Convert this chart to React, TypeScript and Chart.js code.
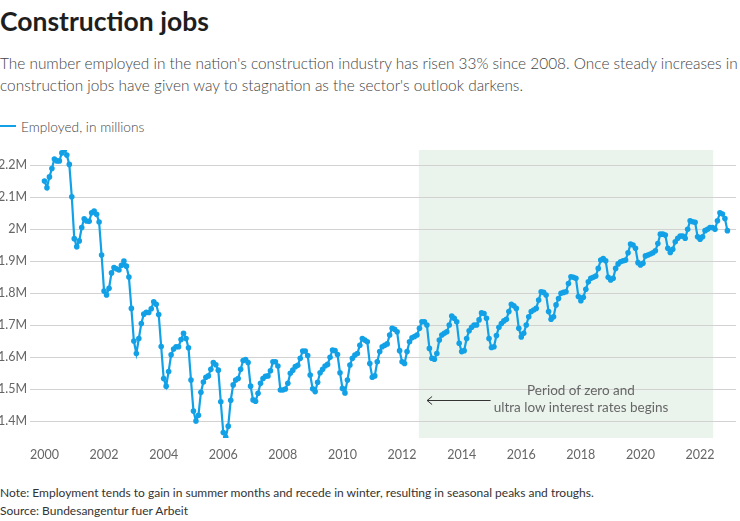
import React, { useEffect, useRef } from "react";
import { Chart, registerables } from "chart.js";

Chart.register(...registerables);

// Monthly employment in construction (millions), Jan..Dec
const y2000 = [2.150, 2.129, 2.163, 2.189, 2.219, 2.213, 2.213, 2.238, 2.247, 2.231, 2.202, 2.101];
const y2001 = [1.970, 1.945, 1.963, 2.005, 2.032, 2.025, 2.024, 2.051, 2.056, 2.046, 2.022, 1.919];
const y2002 = [1.806, 1.794, 1.815, 1.863, 1.880, 1.876, 1.872, 1.887, 1.900, 1.884, 1.850, 1.752];
const y2003 = [1.650, 1.611, 1.658, 1.705, 1.734, 1.740, 1.739, 1.751, 1.773, 1.765, 1.733, 1.633];
const y2004 = [1.533, 1.509, 1.555, 1.607, 1.625, 1.632, 1.632, 1.655, 1.674, 1.658, 1.629, 1.528];
const y2005 = [1.431, 1.400, 1.418, 1.490, 1.522, 1.537, 1.541, 1.562, 1.583, 1.576, 1.559, 1.460];
const y2006 = [1.364, 1.349, 1.384, 1.465, 1.513, 1.528, 1.533, 1.562, 1.589, 1.592, 1.583, 1.509];
const y2007 = [1.466, 1.462, 1.487, 1.518, 1.533, 1.540, 1.541, 1.557, 1.585, 1.585, 1.572, 1.497];
const y2008 = [1.497, 1.500, 1.518, 1.549, 1.559, 1.570, 1.574, 1.596, 1.619, 1.619, 1.605, 1.544];
const y2009 = [1.501, 1.492, 1.521, 1.551, 1.562, 1.572, 1.577, 1.599, 1.622, 1.620, 1.608, 1.551];
const y2010 = [1.502, 1.488, 1.528, 1.575, 1.596, 1.606, 1.611, 1.637, 1.658, 1.653, 1.648, 1.580];
const y2011 = [1.537, 1.541, 1.585, 1.617, 1.632, 1.637, 1.641, 1.669, 1.690, 1.687, 1.679, 1.620];
const y2012 = [1.585, 1.580, 1.617, 1.648, 1.660, 1.664, 1.669, 1.690, 1.710, 1.710, 1.700, 1.627];
const y2013 = [1.596, 1.593, 1.611, 1.653, 1.669, 1.674, 1.679, 1.700, 1.728, 1.721, 1.710, 1.643];
const y2014 = [1.617, 1.620, 1.658, 1.682, 1.693, 1.700, 1.700, 1.716, 1.738, 1.736, 1.721, 1.658];
const y2015 = [1.630, 1.632, 1.667, 1.693, 1.705, 1.713, 1.718, 1.742, 1.765, 1.760, 1.752, 1.690];
const y2016 = [1.663, 1.674, 1.700, 1.726, 1.742, 1.747, 1.752, 1.778, 1.804, 1.802, 1.794, 1.742];
const y2017 = [1.718, 1.726, 1.763, 1.783, 1.799, 1.802, 1.804, 1.830, 1.851, 1.849, 1.846, 1.789];
const y2018 = [1.776, 1.787, 1.812, 1.835, 1.846, 1.849, 1.853, 1.877, 1.903, 1.908, 1.901, 1.849];
const y2019 = [1.841, 1.846, 1.877, 1.891, 1.898, 1.901, 1.903, 1.926, 1.953, 1.950, 1.940, 1.895];
const y2020 = [1.888, 1.893, 1.916, 1.919, 1.922, 1.926, 1.932, 1.955, 1.984, 1.984, 1.981, 1.940];
const y2021 = [1.927, 1.937, 1.960, 1.971, 1.978, 1.978, 1.971, 1.999, 2.026, 2.023, 2.021, 1.976];
const y2022 = [1.968, 1.976, 1.995, 1.999, 2.005, 2.005, 1.999, 2.026, 2.051, 2.047, 2.033, 1.995];

const firstYear = 2000;
const yearSeries = [
  y2000, y2001, y2002, y2003, y2004, y2005, y2006, y2007, y2008, y2009, y2010, y2011,
  y2012, y2013, y2014, y2015, y2016, y2017, y2018, y2019, y2020, y2021, y2022,
];

const xTickValues = [2000, 2002, 2004, 2006, 2008, 2010, 2012, 2014, 2016, 2018, 2020, 2022];
const yTickValues = [1.4, 1.5, 1.6, 1.7, 1.8, 1.9, 2.0, 2.1, 2.2];

// low-rate period (decimal years)
const periodStart = 2012.56;
const periodEnd = 2022.44;

const LINE_COLOR = "#12a1e6";
const FONT = "Lato, 'Open Sans', sans-serif";

export default function App() {
  const canvasRef = useRef<HTMLCanvasElement | null>(null);

  useEffect(() => {
    document.body.style.margin = "0";
    const points: { x: number; y: number }[] = [];
    yearSeries.forEach((arr, yi) => {
      arr.forEach((v, mi) => points.push({ x: firstYear + yi + mi / 12, y: v }));
    });

    const shadePlugin = {
      id: "shade",
      beforeDraw(chart: any) {
        const { ctx, chartArea, scales } = chart;
        const x0 = scales.x.getPixelForValue(periodStart);
        const x1 = scales.x.getPixelForValue(periodEnd);
        ctx.save();
        ctx.fillStyle = "#eaf4ed";
        ctx.fillRect(x0, chartArea.top, x1 - x0, chartArea.bottom - chartArea.top);
        ctx.restore();
      },
    };

    const arrowPlugin = {
      id: "arrow",
      afterDatasetsDraw(chart: any) {
        const { ctx, scales } = chart;
        const xa = scales.x.getPixelForValue(2014.97);
        const xb = scales.x.getPixelForValue(2012.84);
        const y = Math.round(scales.y.getPixelForValue(1.466)) + 0.5;
        ctx.save();
        ctx.strokeStyle = "#333";
        ctx.lineWidth = 1;
        ctx.beginPath();
        ctx.moveTo(xa, y);
        ctx.lineTo(xb, y);
        ctx.moveTo(xb + 5, y - 4);
        ctx.lineTo(xb, y);
        ctx.lineTo(xb + 5, y + 4);
        ctx.stroke();
        ctx.restore();
      },
    };

    const chart = new Chart(canvasRef.current as HTMLCanvasElement, {
      type: "line",
      data: {
        datasets: [
          {
            label: "Employed, in millions",
            data: points,
            borderColor: LINE_COLOR,
            backgroundColor: LINE_COLOR,
            borderWidth: 2.2,
            pointRadius: 2.8,
            pointBorderWidth: 0,
            pointBackgroundColor: LINE_COLOR,
            tension: 0,
          },
        ],
      },
      options: {
        animation: false,
        responsive: false,
        maintainAspectRatio: false,
        layout: { padding: { top: 10, left: 0, right: 0, bottom: 0 } },
        plugins: { legend: { display: false }, tooltip: { enabled: false } },
        scales: {
          x: {
            type: "linear",
            min: 1999.5145,
            max: 2023.2055,
            grid: { display: false, drawTicks: false },
            border: { display: false },
            afterBuildTicks: (s: any) => {
              s.ticks = xTickValues.map((v) => ({ value: v }));
            },
            afterFit: (s: any) => {
              s.height = 42;
              s.paddingLeft = 0;
              s.paddingRight = 0;
            },
            ticks: {
              padding: 9,
              color: "#666",
              font: { family: FONT, size: 12.5 },
              maxRotation: 0,
              autoSkip: false,
              callback: (v: any) => String(v),
            },
          },
          y: {
            min: 1.347,
            max: 2.247,
            grid: { color: "#d2d2d2", lineWidth: 1, drawTicks: false },
            border: { display: false },
            afterBuildTicks: (s: any) => {
              s.ticks = yTickValues.map((v) => ({ value: v }));
            },
            afterFit: (s: any) => {
              s.width = 30;
              s.paddingTop = 0;
              s.paddingBottom = 0;
            },
            ticks: {
              padding: 3,
              color: "#666",
              font: { family: FONT, size: 12.5 },
              callback: (v: any) => `${+Number(v).toFixed(1)}M`,
            },
          },
        },
      },
      plugins: [shadePlugin, arrowPlugin],
    });
    return () => chart.destroy();
  }, []);

  const base: React.CSSProperties = {
    position: "absolute",
    left: 0,
    fontFamily: FONT,
    whiteSpace: "nowrap",
    margin: 0,
  };

  return (
    <div style={{ position: "relative", width: 740, height: 521, overflow: "hidden", background: "#fff" }}>
      <div style={{ ...base, top: 5, fontSize: 26.5, fontWeight: 700, color: "#1e1e1e", lineHeight: "32px" }}>
        Construction jobs
      </div>
      <div style={{ ...base, top: 52, fontSize: 15.4, fontWeight: 300, color: "#444", lineHeight: "22px" }}>
        The number employed in the nation's construction industry has risen 33% since 2008. Once steady increases in
        <br />
        construction jobs have given way to stagnation as the sector's outlook darkens.
      </div>
      <div style={{ ...base, top: 117, height: 18, display: "flex", alignItems: "center", fontSize: 13.7, fontWeight: 300, color: "#444" }}>
        <span style={{ display: "inline-block", width: 16, height: 2, background: LINE_COLOR, marginRight: 5 }} />
        Employed, in millions
      </div>
      <canvas
        ref={canvasRef}
        width={740}
        height={340}
        style={{ position: "absolute", left: 0, top: 140, width: 740, height: 340 }}
      />
      <div
        style={{
          position: "absolute",
          left: 481,
          width: 200,
          top: 382,
          textAlign: "center",
          fontFamily: FONT,
          fontSize: 13.5,
          color: "#666",
          lineHeight: "17px",
          whiteSpace: "nowrap",
        }}
      >
        Period of zero and
        <br />
        ultra low interest rates begins
      </div>
      <div style={{ ...base, top: 484, fontSize: 12, color: "#333", lineHeight: "18px" }}>
        Note: Employment tends to gain in summer months and recede in winter, resulting in seasonal peaks and troughs.
        <br />
        Source: Bundesangentur fuer Arbeit
      </div>
    </div>
  );
}
